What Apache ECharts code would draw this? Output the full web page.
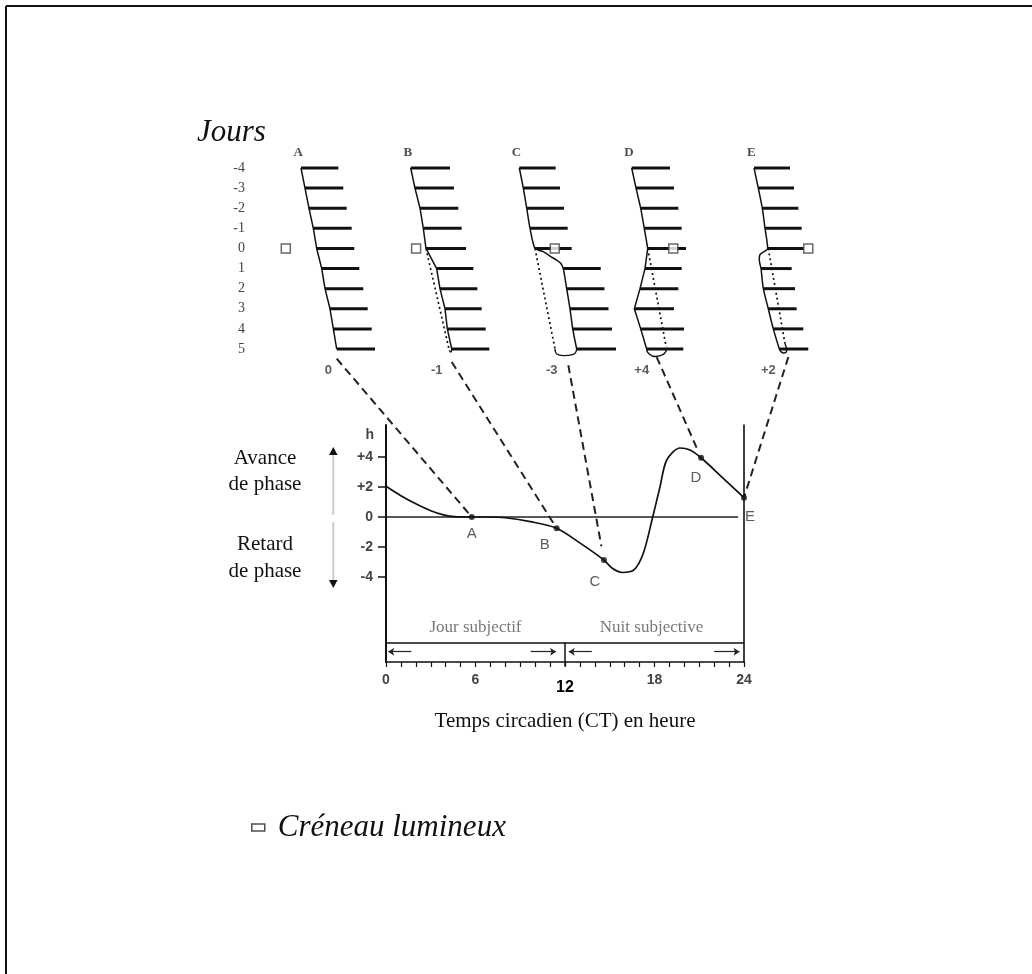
<!DOCTYPE html>
<html><head><meta charset="utf-8">
<script src="https://cdn.jsdelivr.net/npm/echarts@6/dist/echarts.min.js"></script>
<style>html,body{margin:0;padding:0;background:#fff}#c{width:1032px;height:974px}</style>
</head><body><div id="c"></div>
<script>
// ---------------- DATA ----------------
const days = [-4,-3,-2,-1,0,1,2,3,4,5];
const panelNames = ['A','B','C','D','E'];
const shiftLabels = ['0','-1','-3','+4','+2'];

// activity onset / end per day (hours, actogram scale)
const onsetA  = [3.0,3.57,4.14,4.76,5.24,5.96,6.43,7.14,7.62,8.10];
const offsetA = [8.33,9.04,9.53,10.24,10.61,11.33,11.9,12.53,13.1,13.57];
const onsetB  = [1.53,2.14,2.86,3.33,3.71,5.24,5.71,6.43,6.76,7.39];
const offsetB = [7.14,7.71,8.33,8.81,9.43,10.48,11.05,11.67,12.24,12.76];
const onsetC  = [1.33,1.9,2.39,2.86,3.57,7.61,8.1,8.57,8.96,9.53];
const offsetC = [6.53,7.14,7.71,8.24,8.81,12.96,13.5,14.07,14.57,15.14];
const onsetD  = [1.67,2.29,2.96,3.47,3.96,3.57,2.86,2.05,2.96,3.81];
const offsetD = [7.14,7.71,8.33,8.81,9.43,8.81,8.33,7.71,9.14,9.04];
const onsetE  = [1.29,1.9,2.47,2.86,3.24,2.29,2.62,3.33,4.04,4.9];
const offsetE = [6.43,7.0,7.62,8.1,8.4,6.67,7.14,7.38,8.33,9.04];

// onset transition just after the pulse: [hour, day]
const transC = [[4.76,0.16],[5.71,0.38],[6.67,0.58],[7.24,0.74]];
const transE = [[2.9,0.12],[2.1,0.33],[2.04,0.58],[2.14,0.78]];
// projected onsets without the pulse (dotted): [hour, day]
const projB = [[3.71,0],[7.04,5.07]];
const projC = [[3.57,0],[6.43,5]];
const projD = [[3.96,0],[6.6,4.9]];
const projE = [[3.33,0],[5.71,4.73]];
// closing loops at the bottom: [hour, day]
const loopB = [[7.39,5],[7.25,5.15],[7.04,5.07]];
const loopC = [[9.53,5],[9.05,5.27],[7.62,5.33],[6.67,5.25],[6.43,5.0]];
const loopD = [[3.81,5],[4.04,5.2],[5.0,5.37],[6.19,5.27],[6.67,4.98]];
const loopE = [[4.9,5],[5.47,5.2],[5.95,5.07],[5.71,4.73]];
// light pulse (hour on day 0)
const pulseHour = [0.83,2.3,6.4,7.61,9.04];
// shift labels under each actogram and anchor of dashed link
const shiftHour = [6.9,5.24,5.96,3.1,3.33];
const linkHour = [8.1,7.39,8.33,5.24,6.19];
const linkDay  = [5.48,5.65,5.81,5.4,5.4];

// phase response curve (CT hours, phase shift h)
const prcHour  = [0,1,2,3,3.85,4.6,5.75,7,8,9.68,11.44,13.04,14.61,15.17,15.84,16.62,17.25,17.88,18.37,18.82,19.71,20.38,21.12,22.5,24];
const prcShift = [2.05,1.42,0.88,0.42,0.14,0.02,0,0,-0.05,-0.31,-0.75,-1.76,-2.87,-3.42,-3.7,-3.53,-2.42,0,2.02,3.8,4.6,4.47,3.95,2.68,1.29];
const dotHour  = [5.75,11.44,14.61,21.12,24];
const dotShift = [0,-0.75,-2.87,3.95,1.29];
const xTickLabels = [0,6,12,18,24];
const yTickValues = [-4,-2,0,2,4];
const periodNames = ['Jour subjectif','Nuit subjective'];
const periodHour = [6,17.8];

// ---------------- STYLE / LAYOUT ----------------
const SERIF = '"Liberation Serif","Times New Roman",serif';
const SANS = '"Liberation Sans",Arial,sans-serif';
const INK = '#111';
const panelLeft = [280,400,510,620,745];
const PX_H = 7;
const dotLabelOffset = [[0,17],[-12,17],[-9,22],[-5,20],[6,19]];
const linkGap = [0,0,14,9,0];

const chart = echarts.init(document.getElementById('c'));
const panels = [
  {on:onsetA,off:offsetA,trans:null,proj:null,loop:null},
  {on:onsetB,off:offsetB,trans:null,proj:projB,loop:loopB},
  {on:onsetC,off:offsetC,trans:transC,proj:projC,loop:loopC},
  {on:onsetD,off:offsetD,trans:null,proj:projD,loop:loopD},
  {on:onsetE,off:offsetE,trans:transE,proj:projE,loop:loopE}
];

const grid=[], xAxis=[], yAxis=[], series=[];
panels.forEach((p,i)=>{
  grid.push({left:panelLeft[i], top:168, width:16*PX_H, height:181});
  xAxis.push({gridIndex:i, type:'value', min:0, max:16, show:false});
  yAxis.push({gridIndex:i, type:'value', min:-4, max:5, inverse:true, interval:1, show:i===0,
    axisLine:{show:false}, axisTick:{show:false}, splitLine:{show:false},
    axisLabel:{show:i===0, margin:35, color:'#444', fontFamily:SERIF, fontSize:14}});
  // bars
  series.push({type:'custom', xAxisIndex:i, yAxisIndex:i, silent:true, z:3,
    data: days.map((d,k)=>[p.on[k], p.off[k], d]), encode:{x:[0,1], y:2},
    renderItem:(params,api)=>{
      const a=api.coord([api.value(0),api.value(2)]), b=api.coord([api.value(1),api.value(2)]);
      return {type:'line', shape:{x1:a[0],y1:a[1],x2:b[0],y2:b[1]}, style:{stroke:INK,lineWidth:3}};
    }});
  // onset line
  let ol=[];
  days.forEach((d,k)=>{ ol.push([p.on[k],d]); if(d===0 && p.trans) ol=ol.concat(p.trans); });
  series.push({type:'line', xAxisIndex:i, yAxisIndex:i, data:ol, symbol:'none', smooth:p.trans?0.25:false,
    clip:false, silent:true, z:4, lineStyle:{color:INK,width:1.5}});
  if(p.proj) series.push({type:'line', xAxisIndex:i, yAxisIndex:i, data:p.proj, symbol:'none', clip:false, silent:true, z:4,
    lineStyle:{color:INK,width:1.7,type:[2,3]}});
  if(p.loop) series.push({type:'line', xAxisIndex:i, yAxisIndex:i, data:p.loop, symbol:'none', smooth:0.5, clip:false, silent:true, z:4,
    lineStyle:{color:INK,width:1.4}});
  series.push({type:'scatter', name:'Créneau lumineux', xAxisIndex:i, yAxisIndex:i, data:[[pulseHour[i],0]], symbol:'rect',
    symbolSize:9, clip:false, silent:true, z:6, itemStyle:{color:'#fff', borderColor:'#444', borderWidth:1.5}});
  series.push({type:'scatter', xAxisIndex:i, yAxisIndex:i, data:[{name:panelNames[i], value:[p.on[0]-0.4,-4.78]}],
    symbolSize:1, clip:false, silent:true, itemStyle:{color:'rgba(0,0,0,0)'},
    label:{show:true, position:'inside', formatter:'{b}', fontFamily:SERIF, fontWeight:'bold', fontSize:13, color:'#222'}});
  series.push({type:'scatter', xAxisIndex:i, yAxisIndex:i, data:[{name:shiftLabels[i], value:[shiftHour[i],6.08]}],
    symbolSize:1, clip:false, silent:true, itemStyle:{color:'rgba(0,0,0,0)'},
    label:{show:true, position:'inside', formatter:'{b}', fontFamily:SANS, fontWeight:'bold', fontSize:13, color:'#333'}});
});

// PRC grid
const P = 5;
grid.push({left:386, top:425, width:358, height:237});
xAxis.push({gridIndex:P, type:'value', min:0, max:24, interval:1,
  axisLine:{onZero:false, lineStyle:{color:INK,width:1.5}},
  axisTick:{length:5, lineStyle:{color:INK,width:1.2}}, splitLine:{show:false},
  axisLabel:{margin:11, formatter:v=> v===12?'{b|12}':(xTickLabels.indexOf(v)>=0?'{a|'+v+'}':''),
    rich:{a:{fontFamily:SANS,fontWeight:'bold',fontSize:14,color:'#444'},
          b:{fontFamily:SANS,fontWeight:'bold',fontSize:16,color:'#000',padding:[7,0,0,0]}}}});
yAxis.push({gridIndex:P, type:'value', min:-145/15, max:92/15, splitLine:{show:false},
  axisLine:{show:true, onZero:false, lineStyle:{color:INK,width:2}},
  axisTick:{show:true, length:8, customValues:yTickValues, lineStyle:{color:INK,width:1.5}},
  axisLabel:{customValues:yTickValues, formatter:v=> v>0?'+'+v:String(v), margin:13,
    fontFamily:SANS, fontWeight:'bold', fontSize:14, color:'#444'},
  name:'h', nameLocation:'end', nameGap:-10,
  nameTextStyle:{align:'right', verticalAlign:'middle', padding:[0,12,0,0], fontFamily:SANS, fontWeight:'bold', fontSize:14, color:'#444'}});
yAxis.push({gridIndex:P, type:'value', position:'right', min:-145/15, max:92/15, splitLine:{show:false},
  axisLine:{show:true, onZero:false, lineStyle:{color:INK,width:1.6}}, axisTick:{show:false}, axisLabel:{show:false}});

series.push({type:'line', xAxisIndex:P, yAxisIndex:P, data:[[0,0],[23.6,0]], symbol:'none', silent:true,
  lineStyle:{color:'#222',width:1.3}});
series.push({type:'line', xAxisIndex:P, yAxisIndex:P, data:prcHour.map((h,k)=>[h,prcShift[k]]), symbol:'none',
  smooth:0.3, silent:true, z:4, lineStyle:{color:INK,width:1.7}});
series.push({type:'scatter', xAxisIndex:P, yAxisIndex:P, symbolSize:6, clip:false, silent:true, z:5,
  itemStyle:{color:INK},
  data: dotHour.map((h,k)=>({name:panelNames[k], value:[h,dotShift[k]],
     label:{offset:dotLabelOffset[k]}})),
  label:{show:true, position:'inside', formatter:'{b}', fontFamily:SANS, fontSize:15, color:'#333'}});
// subjective day / night box
series.push({type:'lines', coordinateSystem:'cartesian2d', xAxisIndex:P, yAxisIndex:P, silent:true, clip:false,
  lineStyle:{color:INK,width:1.5,opacity:1},
  data:[{coords:[[0,-8.38],[24,-8.38]]},{coords:[[12,-8.38],[12,-9.95]]}]});
series.push({type:'lines', coordinateSystem:'cartesian2d', xAxisIndex:P, yAxisIndex:P, silent:true, clip:false,
  symbol:['none','arrow'], symbolSize:6, lineStyle:{color:'#222',width:1.2,opacity:1},
  data:[{coords:[[1.7,-8.98],[0.15,-8.98]]},{coords:[[9.7,-8.98],[11.4,-8.98]]},
        {coords:[[13.8,-8.98],[12.25,-8.98]]},{coords:[[22.0,-8.98],[23.7,-8.98]]}]});
series.push({type:'scatter', xAxisIndex:P, yAxisIndex:P, symbolSize:1, silent:true, itemStyle:{color:'rgba(0,0,0,0)'},
  data: periodNames.map((n,k)=>({name:n, value:[periodHour[k],-7.4]})),
  label:{show:true, position:'inside', formatter:'{b}', fontFamily:SERIF, fontSize:17, color:'#555'}});

chart.setOption({
  animation:false, backgroundColor:'#fff',
  grid, xAxis, yAxis, series,
  legend:{data:['Créneau lumineux'], left:251, top:812, padding:0, icon:'rect', itemWidth:13, itemHeight:7, selectedMode:false,
    itemStyle:{color:'#fff', borderColor:'#222', borderWidth:1.5},
    textStyle:{fontFamily:SERIF, fontStyle:'italic', fontSize:31, color:'#111', padding:[0,0,0,8]}}
});

// decorations and dashed links (computed through the chart scales)
const g = [];
g.push({type:'line', shape:{x1:6,y1:6,x2:1032,y2:6}, style:{stroke:'#111',lineWidth:2}});
g.push({type:'line', shape:{x1:6,y1:6,x2:6,y2:974}, style:{stroke:'#111',lineWidth:2}});
g.push({type:'text', x:197, y:132.5, style:{text:'Jours', fontFamily:SERIF, fontStyle:'italic', fontSize:31, fill:'#111', align:'left', verticalAlign:'middle'}});
[['Avance',458],['de phase',484.7],['Retard',544.7],['de phase',571.3]].forEach(t=>{
  g.push({type:'text', x:265, y:t[1], style:{text:t[0], fontFamily:SERIF, fontSize:21, fill:'#111', align:'center', verticalAlign:'middle'}});
});
g.push({type:'text', x:565, y:721, style:{text:'Temps circadien (CT) en heure', fontFamily:SERIF, fontSize:21, fill:'#111', align:'center', verticalAlign:'middle'}});
g.push({type:'line', shape:{x1:333.3,y1:452,x2:333.3,y2:515}, style:{stroke:'#ccc',lineWidth:2}});
g.push({type:'line', shape:{x1:333.3,y1:522,x2:333.3,y2:583}, style:{stroke:'#ccc',lineWidth:2}});
g.push({type:'polygon', shape:{points:[[333.3,447],[329,455],[337.6,455]]}, style:{fill:'#111'}});
g.push({type:'polygon', shape:{points:[[333.3,588],[329,580],[337.6,580]]}, style:{fill:'#111'}});
for(let i=0;i<5;i++){
  const a = chart.convertToPixel({xAxisIndex:i, yAxisIndex:i}, [linkHour[i], linkDay[i]]);
  const b = chart.convertToPixel({xAxisIndex:P, yAxisIndex:P}, [dotHour[i], dotShift[i]]);
  const dx=b[0]-a[0], dy=b[1]-a[1], L=Math.hypot(dx,dy), f=(L-linkGap[i])/L;
  g.push({type:'line', shape:{x1:a[0],y1:a[1],x2:a[0]+dx*f,y2:a[1]+dy*f},
    style:{stroke:'#222', lineWidth:2, lineDash:[8,5]}, z:2});
}
chart.setOption({graphic:g});
</script></body></html>
